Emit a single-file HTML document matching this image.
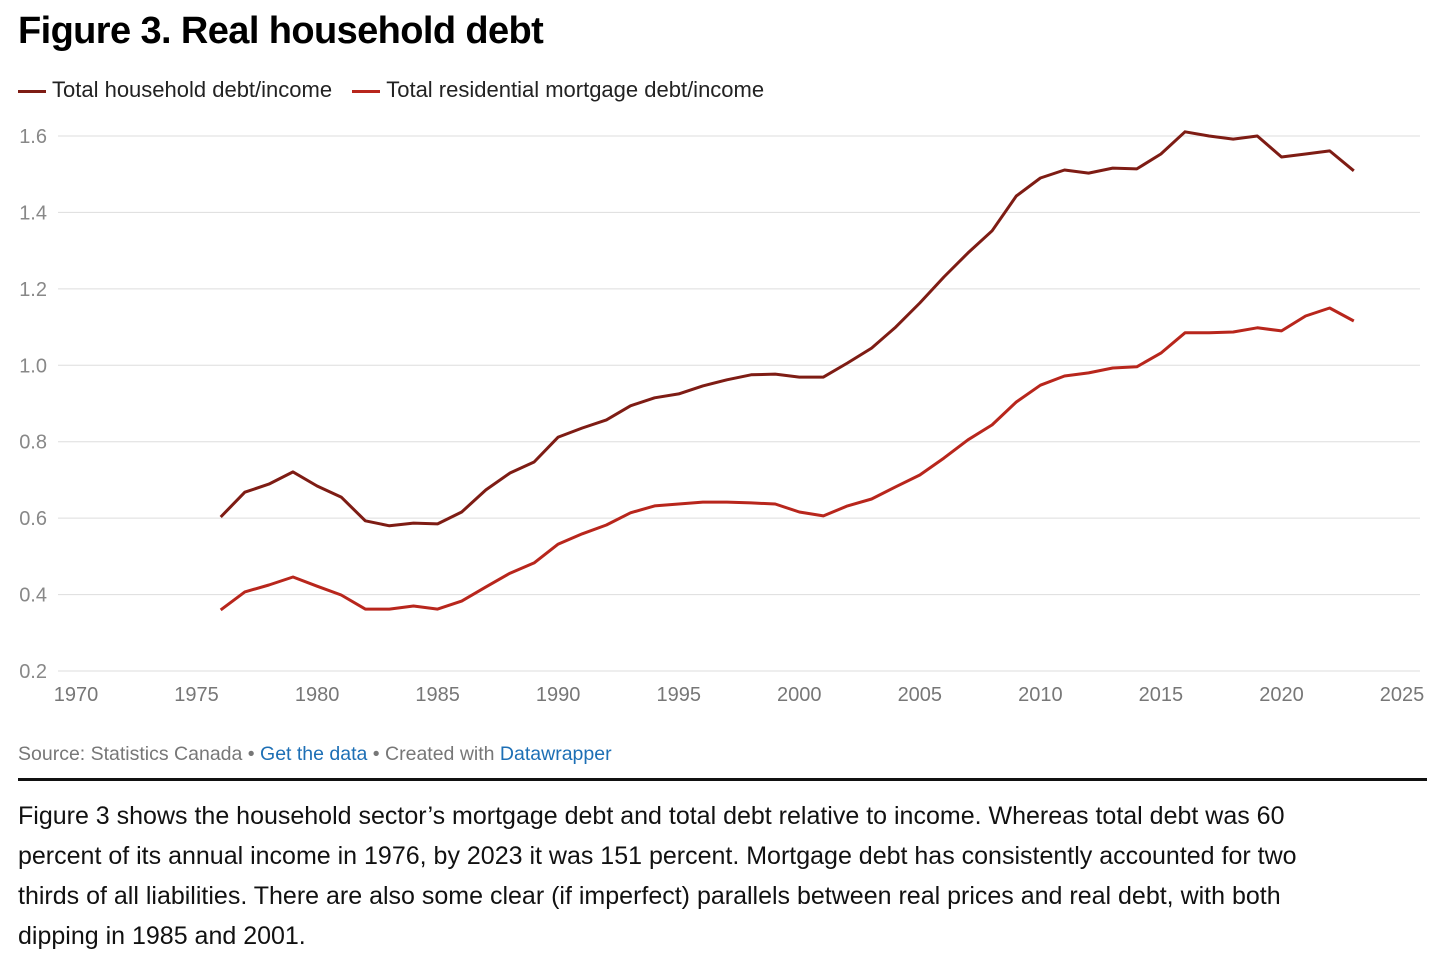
<!DOCTYPE html>
<html><head><meta charset="utf-8"><style>
body{margin:0;background:#fff;font-family:"Liberation Sans",sans-serif;width:1456px;height:974px;overflow:hidden;position:relative}
.t{position:absolute;white-space:nowrap}
a{color:#1d6fb5;text-decoration:none}
</style></head><body>
<div class="t" style="left:18px;top:10px;font-size:38px;font-weight:bold;color:#000;letter-spacing:-0.6px">Figure 3. Real household debt</div>
<div class="t" style="left:18px;top:77px;font-size:22px;color:#222">
<span><span style="display:inline-block;width:28px;height:3px;background:#7e1c14;vertical-align:middle;margin-right:6px"></span>Total household debt/income</span>
<span style="margin-left:14px"><span style="display:inline-block;width:28px;height:3px;background:#b8261c;vertical-align:middle;margin-right:6px"></span>Total residential mortgage debt/income</span>
</div>
<svg id="chart" width="1456" height="740" style="position:absolute;left:0;top:0"></svg>
<div class="t" style="left:18px;top:743px;font-size:19.5px;color:#777">Source: Statistics Canada • <a href="#">Get the data</a> • Created with <a href="#">Datawrapper</a></div>
<div style="position:absolute;left:18px;top:778px;width:1409px;height:3px;background:#111"></div>
<div style="position:absolute;left:18px;top:796px;white-space:nowrap;font-size:25px;line-height:40px;color:#111">Figure 3 shows the household sector’s mortgage debt and total debt relative to income. Whereas total debt was 60<br>percent of its annual income in 1976, by 2023 it was 151 percent. Mortgage debt has consistently accounted for two<br>thirds of all liabilities. There are also some clear (if imperfect) parallels between real prices and real debt, with both<br>dipping in 1985 and 2001.</div>
<script>
const years=[];for(let y=1976;y<=2023;y++)years.push(y);
const totalDebt=[0.603,0.668,0.689,0.721,0.684,0.655,0.593,0.58,0.587,0.585,0.616,0.674,0.718,0.747,0.812,0.836,0.857,0.894,0.915,0.925,0.946,0.962,0.975,0.977,0.969,0.969,1.006,1.045,1.10,1.163,1.231,1.294,1.352,1.443,1.49,1.511,1.503,1.516,1.514,1.553,1.611,1.60,1.592,1.60,1.545,1.553,1.561,1.509];
const mortgageDebt=[0.36,0.407,0.425,0.446,0.422,0.399,0.362,0.362,0.37,0.362,0.383,0.42,0.456,0.483,0.532,0.559,0.582,0.614,0.632,0.637,0.642,0.642,0.64,0.637,0.616,0.606,0.632,0.65,0.682,0.713,0.757,0.805,0.844,0.904,0.948,0.972,0.98,0.993,0.996,1.032,1.085,1.085,1.087,1.098,1.09,1.129,1.15,1.116];
const yTicks=[0.2,0.4,0.6,0.8,1.0,1.2,1.4,1.6];
const xTicks=[1970,1975,1980,1985,1990,1995,2000,2005,2010,2015,2020,2025];
const NS="http://www.w3.org/2000/svg",svg=document.getElementById('chart');
const x=v=>76+(v-1970)*(1402-76)/55;
const y=v=>671-(v-0.2)*(671-136)/1.4;
function mk(t,a){const e=document.createElementNS(NS,t);for(const k in a)e.setAttribute(k,a[k]);svg.appendChild(e);return e;}
yTicks.forEach(v=>{
 const l=mk('line',{x1:58,x2:1420,y1:y(v),y2:y(v),stroke:'#ddd','stroke-width':1});
 
 
 const t=mk('text',{x:47,y:y(v)+7,'font-size':20,fill:'#888','text-anchor':'end','font-family':'Liberation Sans'});t.textContent=v.toFixed(1);
 
 
});
xTicks.forEach(v=>{
 const t=mk('text',{x:x(v),y:701,'font-size':20,fill:'#777','text-anchor':'middle','font-family':'Liberation Sans'});t.textContent=v;
 
 
});
function line(d,c,n){
 const p=mk('path',{d:d.map((v,i)=>(i?'L':'M')+x(years[i]).toFixed(1)+' '+y(v).toFixed(1)).join(''),fill:'none',stroke:c,'stroke-width':3,'stroke-linejoin':'round'});
 
 
}
line(totalDebt,'#7e1c14','total-debt-line');
line(mortgageDebt,'#b8261c','mortgage-debt-line');
</script>
</body></html>
